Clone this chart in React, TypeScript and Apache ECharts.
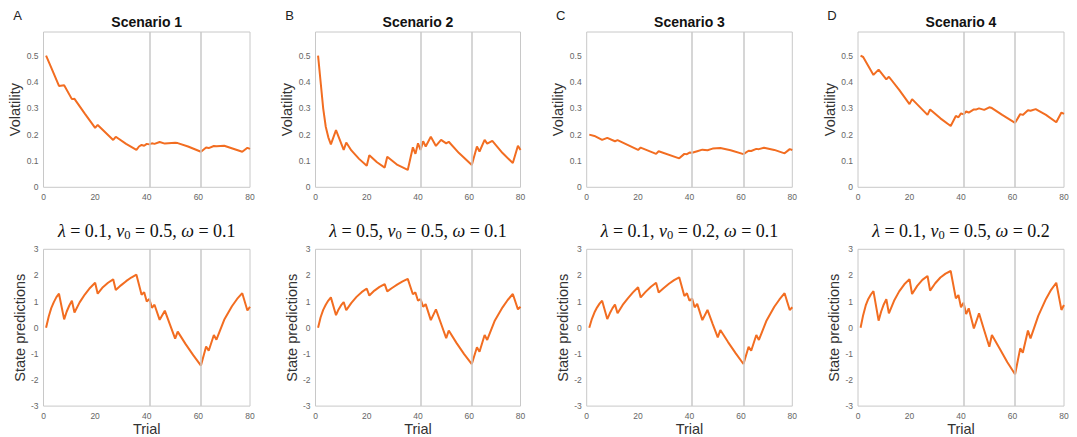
import React, { useEffect, useRef } from "react";
import * as echarts from "echarts";

const scenarioTitles = ["Scenario 1", "Scenario 2", "Scenario 3", "Scenario 4"];
const panelLetters = ["A", "B", "C", "D"];
const paramLambda = ["0.1", "0.5", "0.1", "0.1"];
const paramV0 = ["0.5", "0.5", "0.2", "0.5"];
const paramOmega = ["0.1", "0.1", "0.1", "0.2"];
const changePoints = [41, 61];
const volTicks = [0, 0.1, 0.2, 0.3, 0.4, 0.5];
const stateTicks = [-3, -2, -1, 0, 1, 2, 3];
const trialTicks = [0, 20, 40, 60, 80];

const vol1 = [[1,0.5],[3,0.455],[6,0.385],[8,0.388],[11,0.335],[12,0.336],[16,0.28],[20,0.226],[21,0.237],[27,0.18],[28,0.192],[32,0.165],[36,0.142],[37,0.155],[38,0.161],[39,0.158],[40,0.165],[41,0.163],[42,0.167],[43,0.165],[45,0.172],[47,0.166],[51,0.169],[52,0.168],[56,0.155],[61,0.135],[63,0.151],[64,0.149],[66,0.157],[67,0.156],[70,0.158],[77,0.135],[79,0.15],[80,0.146]];
const vol2 = [[1,0.5],[2,0.4],[3,0.3],[4,0.23],[5,0.19],[6,0.163],[8,0.217],[11,0.142],[12,0.17],[14,0.14],[17,0.108],[20,0.082],[21,0.122],[24,0.095],[27,0.075],[28,0.116],[32,0.085],[36,0.066],[38,0.152],[39,0.127],[40,0.167],[41,0.142],[42,0.175],[43,0.155],[45,0.192],[47,0.157],[49,0.18],[51,0.167],[52,0.173],[56,0.13],[61,0.085],[63,0.155],[64,0.136],[66,0.18],[67,0.166],[69,0.176],[73,0.13],[77,0.092],[79,0.158],[80,0.142]];
const vol3 = [[1,0.2],[3,0.195],[6,0.18],[8,0.188],[11,0.175],[12,0.179],[20,0.142],[21,0.151],[27,0.127],[28,0.137],[36,0.11],[38,0.127],[39,0.126],[40,0.132],[41,0.131],[43,0.137],[45,0.143],[47,0.141],[49,0.147],[52,0.149],[56,0.141],[61,0.126],[63,0.139],[64,0.138],[66,0.146],[67,0.145],[69,0.15],[73,0.142],[77,0.129],[79,0.145],[80,0.142]];
const vol4 = [[1,0.5],[2,0.495],[6,0.427],[8,0.447],[11,0.41],[12,0.42],[16,0.37],[20,0.316],[21,0.335],[27,0.275],[28,0.296],[32,0.262],[36,0.233],[38,0.271],[39,0.266],[40,0.281],[41,0.277],[42,0.288],[43,0.284],[45,0.296],[46,0.296],[47,0.3],[49,0.294],[51,0.304],[52,0.301],[56,0.275],[61,0.245],[63,0.278],[64,0.275],[66,0.293],[67,0.291],[69,0.297],[73,0.275],[77,0.247],[79,0.284],[80,0.279]];

const state1 = [[1,0],[2,0.42],[3,0.75],[4,0.98],[5,1.17],[6,1.3],[8,0.32],[9,0.62],[10,0.85],[11,1.03],[12,0.58],[14,0.97],[16,1.27],[18,1.52],[20,1.72],[21,1.3],[23,1.55],[25,1.72],[27,1.85],[28,1.44],[30,1.62],[32,1.78],[34,1.92],[36,2.03],[38,1.26],[39,1.36],[40,1.0],[41,1.1],[42,0.76],[43,0.88],[45,0.3],[47,0.65],[49,0.12],[51,-0.42],[52,-0.15],[55,-0.62],[58,-1.05],[61,-1.45],[63,-0.72],[64,-0.88],[66,-0.28],[67,-0.46],[70,0.3],[73,0.82],[75,1.1],[77,1.32],[79,0.66],[80,0.8]];
const state2 = [[1,0],[2,0.4],[3,0.68],[4,0.88],[5,1.04],[6,1.16],[8,0.48],[9,0.7],[10,0.86],[11,0.98],[12,0.67],[14,0.95],[16,1.18],[18,1.36],[20,1.5],[21,1.23],[23,1.42],[25,1.56],[27,1.67],[28,1.39],[30,1.53],[32,1.66],[34,1.77],[36,1.87],[38,1.28],[39,1.35],[40,1.03],[41,1.1],[42,0.8],[43,0.9],[45,0.29],[47,0.7],[49,0.15],[51,-0.4],[52,-0.11],[55,-0.58],[58,-1.01],[61,-1.39],[63,-0.75],[64,-0.92],[66,-0.28],[67,-0.47],[70,0.28],[73,0.78],[75,1.06],[77,1.29],[79,0.7],[80,0.8]];
const state3 = [[1,0],[2,0.33],[3,0.58],[4,0.77],[5,0.92],[6,1.03],[8,0.33],[9,0.55],[10,0.74],[11,0.89],[12,0.55],[14,0.87],[16,1.12],[18,1.35],[20,1.55],[21,1.16],[23,1.38],[25,1.57],[27,1.72],[28,1.35],[30,1.52],[32,1.68],[34,1.82],[36,1.93],[38,1.21],[39,1.32],[40,1.03],[41,1.12],[42,0.78],[43,0.91],[45,0.29],[47,0.68],[49,0.15],[51,-0.37],[52,-0.09],[55,-0.55],[58,-0.98],[61,-1.39],[63,-0.73],[64,-0.88],[66,-0.28],[67,-0.47],[70,0.28],[73,0.8],[75,1.08],[77,1.32],[79,0.68],[80,0.78]];
const state4 = [[1,0],[2,0.48],[3,0.85],[4,1.1],[5,1.27],[6,1.4],[8,0.27],[9,0.62],[10,0.89],[11,1.09],[12,0.55],[14,1.03],[16,1.39],[18,1.66],[20,1.86],[21,1.29],[23,1.6],[25,1.83],[27,1.98],[28,1.42],[30,1.7],[32,1.92],[34,2.07],[36,2.17],[38,1.12],[39,1.25],[40,0.78],[41,0.96],[42,0.52],[43,0.74],[45,-0.03],[47,0.55],[49,-0.1],[51,-0.73],[52,-0.28],[55,-0.8],[58,-1.32],[61,-1.78],[63,-0.79],[64,-0.96],[66,-0.11],[67,-0.41],[70,0.45],[73,1.1],[75,1.45],[77,1.72],[79,0.68],[80,0.87]];

const volSeries = [vol1, vol2, vol3, vol4];
const stateSeries = [state1, state2, state3, state4];

const colLeft = [43.5, 315.5, 586.7, 858];
const colWidth = [206.5, 205, 205.6, 206];
const ORANGE = "#f26d21";
const GREY = "#c8c8c8";
const SANS = "Liberation Sans, Arial, sans-serif";
const SERIF = "Liberation Serif, serif";

export default function App() {
  const ref = useRef<HTMLDivElement>(null);
  useEffect(() => {
    if (!ref.current) return;
    const chart = echarts.init(ref.current, null, { renderer: "svg" });
    const grids: any[] = [];
    const xAxes: any[] = [];
    const yAxes: any[] = [];
    const series: any[] = [];
    const graphics: any[] = [];
    for (let row = 0; row < 2; row++) {
      for (let c = 0; c < 4; c++) {
        const idx = row * 4 + c;
        grids.push({
          left: colLeft[c], width: colWidth[c],
          top: row === 0 ? 32 : 249.3, height: row === 0 ? 155.3 : 157.4,
          show: true, borderColor: GREY, borderWidth: 1, backgroundColor: "transparent",
        });
        xAxes.push({
          type: "value", gridIndex: idx, min: trialTicks[0], max: trialTicks[trialTicks.length - 1], interval: 20,
          axisLine: { show: false }, axisTick: { show: false }, splitLine: { show: false },
          axisLabel: { fontSize: 8.5, color: "#666", margin: 5, fontFamily: SANS },
          name: row === 1 ? "Trial" : "", nameLocation: "middle", nameGap: 12,
          nameTextStyle: { fontSize: 14.5, color: "#333", fontFamily: SANS },
        });
        yAxes.push(row === 0 ? {
          type: "value", gridIndex: idx, min: volTicks[0], max: 0.59, interval: 0.1,
          axisLine: { show: false }, axisTick: { show: false }, splitLine: { show: false },
          axisLabel: { fontSize: 8.5, color: "#666", margin: 5, fontFamily: SANS, showMaxLabel: false },
          name: "Volatility", nameLocation: "middle", nameGap: 18,
          nameTextStyle: { fontSize: 14.5, color: "#333", fontFamily: SANS },
        } : {
          type: "value", gridIndex: idx, min: stateTicks[0], max: stateTicks[stateTicks.length - 1], interval: 1,
          axisLine: { show: false }, axisTick: { show: false }, splitLine: { show: false },
          axisLabel: { fontSize: 8.5, color: "#666", margin: 5, fontFamily: SANS },
          name: "State predictions", nameLocation: "middle", nameGap: 13,
          nameTextStyle: { fontSize: 14.5, color: "#333", fontFamily: SANS },
        });
        const data = row === 0 ? volSeries[c] : stateSeries[c];
        series.push({
          type: "line", xAxisIndex: idx, yAxisIndex: idx, data, symbol: "none", z: 1,
          lineStyle: { opacity: 0 }, silent: true,
          markLine: {
            silent: true, symbol: ["none", "none"], label: { show: false },
            lineStyle: { color: GREY, type: "solid", width: 1.5 },
            data: changePoints.map((v) => ({ xAxis: v })),
          },
        });
        series.push({
          type: "line", xAxisIndex: idx, yAxisIndex: idx, data, symbol: "none", z: 3,
          lineStyle: { color: ORANGE, width: 2 }, silent: true,
        });
      }
    }
    for (let c = 0; c < 4; c++) {
      const cx = colLeft[c] + colWidth[c] / 2;
      graphics.push({
        type: "text", x: cx, y: 22,
        style: { text: scenarioTitles[c], fontSize: 14, fontWeight: "bold", fill: "#111", fontFamily: SANS, textAlign: "center", textVerticalAlign: "middle" },
      });
      graphics.push({
        type: "text", x: colLeft[c] - 26, y: 15,
        style: { text: panelLetters[c], fontSize: 13, fill: "#222", fontFamily: SANS, textAlign: "center", textVerticalAlign: "middle" },
      });
      graphics.push({
        type: "text", x: cx, y: 231,
        style: {
          text: `{i|λ} {n|= ${paramLambda[c]},} {i|v}{s|0} {n|= ${paramV0[c]},} {i|ω} {n|= ${paramOmega[c]}}`,
          fontSize: 18, fill: "#111", fontFamily: SERIF, textAlign: "center", textVerticalAlign: "middle",
          rich: {
            n: { fontSize: 18, fontFamily: SERIF, fill: "#111" },
            i: { fontStyle: "italic", fontSize: 18, fontFamily: SERIF, fill: "#111" },
            s: { fontSize: 12.5, fontFamily: SERIF, fill: "#111", padding: [8, 0, 0, 0] },
          },
        },
      });
    }
    chart.setOption({
      animation: false,
      backgroundColor: "#ffffff",
      grid: grids, xAxis: xAxes, yAxis: yAxes, series, graphic: graphics,
    });
    return () => chart.dispose();
  }, []);
  return <div ref={ref} style={{ position: "absolute", left: 0, top: 0, width: 1077, height: 437 }} />;
}
